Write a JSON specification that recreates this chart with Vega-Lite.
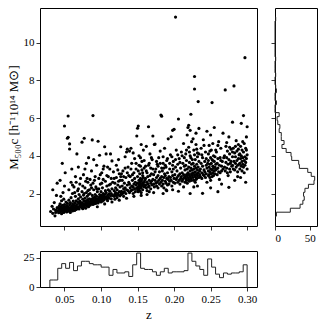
{
"$schema": "https://vega.github.io/schema/vega-lite/v6.json",
"padding": {"left": 6, "top": 7, "right": 0, "bottom": 0},
"spacing": 6,
"vconcat": [
 {"hconcat": [
  {"width": 217, "height": 218,
   "data": {"name": "pts"},
   "mark": {"type": "circle", "size": 10, "color": "black", "opacity": 1},
   "encoding": {
    "x": {"field": "z", "type": "quantitative", "scale": {"domain": [0.0165, 0.3135], "nice": false, "zero": false}, "axis": {"values": [0.05, 0.1, 0.15, 0.2, 0.25, 0.3], "labels": false, "title": null}},
    "y": {"field": "m", "type": "quantitative", "scale": {"domain": [0.28, 11.83], "nice": false, "zero": false}, "axis": {"values": [2, 4, 6, 8, 10], "title": "M₅₀₀c [h⁻¹10¹⁴ M⊙]", "titlePadding": 3}}
   }},
  {"width": 42, "height": 218,
   "layer": [
    {"data": {"name": "hm"},
     "mark": {"type": "line", "interpolate": "step-before", "color": "#222", "strokeWidth": 1},
     "encoding": {
      "x": {"field": "n", "type": "quantitative", "scale": {"domain": [0, 60.3], "nice": false}, "axis": {"values": [0, 50], "title": null}},
      "y": {"field": "m", "type": "quantitative", "scale": {"domain": [0.28, 11.83], "nice": false, "zero": false}, "axis": {"values": [2, 4, 6, 8, 10], "labels": false, "title": null}},
      "order": {"field": "i", "type": "quantitative"}
     }},
    {"mark": {"type": "rule", "color": "#9a9a9a", "strokeWidth": 1.5},
     "encoding": {"x": {"datum": 60.3}}}
   ]}
 ], "spacing": 12},
 {"width": 217, "height": 36,
  "data": {"name": "hz"},
  "mark": {"type": "line", "interpolate": "step-after", "color": "#222", "strokeWidth": 1},
  "encoding": {
   "x": {"field": "z", "type": "quantitative", "scale": {"domain": [0.0165, 0.3135], "nice": false, "zero": false}, "axis": {"values": [0.05, 0.1, 0.15, 0.2, 0.25, 0.3], "format": ".2f", "title": "z", "titlePadding": 4}},
   "y": {"field": "n", "type": "quantitative", "scale": {"domain": [0, 30.8], "nice": false}, "axis": {"values": [0, 25], "title": null}},
   "order": {"field": "i", "type": "quantitative"}
  }}
],
"datasets": {
 "hz": [
  {"i":0,"z":0.03,"n":0},
  {"i":1,"z":0.0300,"n":6},{"i":2,"z":0.0354,"n":6},{"i":3,"z":0.0408,"n":16},{"i":4,"z":0.0462,"n":20},{"i":5,"z":0.0516,"n":16},
  {"i":6,"z":0.0570,"n":21},{"i":7,"z":0.0624,"n":14},{"i":8,"z":0.0678,"n":18},{"i":9,"z":0.0732,"n":22},{"i":10,"z":0.0786,"n":22},
  {"i":11,"z":0.0840,"n":20},{"i":12,"z":0.0894,"n":19},{"i":13,"z":0.0948,"n":19},{"i":14,"z":0.1002,"n":17},{"i":15,"z":0.1056,"n":17},
  {"i":16,"z":0.1110,"n":10},{"i":17,"z":0.1164,"n":15},{"i":18,"z":0.1218,"n":12},{"i":19,"z":0.1272,"n":12},{"i":20,"z":0.1326,"n":13},
  {"i":21,"z":0.1380,"n":9},{"i":22,"z":0.1434,"n":19},{"i":23,"z":0.1488,"n":29},{"i":24,"z":0.1542,"n":16},{"i":25,"z":0.1596,"n":15},
  {"i":26,"z":0.1650,"n":15},{"i":27,"z":0.1704,"n":13},{"i":28,"z":0.1758,"n":10},{"i":29,"z":0.1812,"n":13},{"i":30,"z":0.1866,"n":16},
  {"i":31,"z":0.1920,"n":12},{"i":32,"z":0.1974,"n":13},{"i":33,"z":0.2028,"n":13},{"i":34,"z":0.2082,"n":13},{"i":35,"z":0.2136,"n":14},
  {"i":36,"z":0.2190,"n":29},{"i":37,"z":0.2244,"n":22},{"i":38,"z":0.2298,"n":18},{"i":39,"z":0.2352,"n":15},{"i":40,"z":0.2406,"n":10},
  {"i":41,"z":0.2460,"n":24},{"i":42,"z":0.2514,"n":17},{"i":43,"z":0.2568,"n":11},{"i":44,"z":0.2622,"n":8},{"i":45,"z":0.2676,"n":12},
  {"i":46,"z":0.2730,"n":11},{"i":47,"z":0.2784,"n":12},{"i":48,"z":0.2838,"n":12},{"i":49,"z":0.2892,"n":13},{"i":50,"z":0.2946,"n":19},
  {"i":51,"z":0.30,"n":19},{"i":52,"z":0.30,"n":0}
 ],
 "hm": [
  {"i":0,"m":0.80,"n":0},
  {"i":1,"m":0.800,"n":2},{"i":2,"m":1.011,"n":22},{"i":3,"m":1.222,"n":36},{"i":4,"m":1.433,"n":40},{"i":5,"m":1.644,"n":42},
  {"i":6,"m":1.855,"n":41},{"i":7,"m":2.066,"n":43},{"i":8,"m":2.277,"n":48},{"i":9,"m":2.488,"n":56},{"i":10,"m":2.699,"n":57},
  {"i":11,"m":2.910,"n":52},{"i":12,"m":3.121,"n":47},{"i":13,"m":3.332,"n":35},{"i":14,"m":3.543,"n":34},{"i":15,"m":3.754,"n":24},
  {"i":16,"m":3.965,"n":23},{"i":17,"m":4.176,"n":16},{"i":18,"m":4.387,"n":10},{"i":19,"m":4.598,"n":13},{"i":20,"m":4.809,"n":9},
  {"i":21,"m":5.020,"n":9},{"i":22,"m":5.231,"n":6},{"i":23,"m":5.442,"n":7},{"i":24,"m":5.653,"n":4},{"i":25,"m":5.864,"n":3},
  {"i":26,"m":6.075,"n":6},{"i":27,"m":6.286,"n":0},{"i":28,"m":6.497,"n":0},{"i":29,"m":6.708,"n":2},{"i":30,"m":6.919,"n":0},
  {"i":31,"m":7.130,"n":0},{"i":32,"m":7.341,"n":2},{"i":33,"m":7.552,"n":1},{"i":34,"m":7.763,"n":0},{"i":35,"m":7.974,"n":0},
  {"i":36,"m":8.185,"n":1},{"i":37,"m":8.396,"n":0},{"i":38,"m":8.607,"n":0},{"i":39,"m":8.818,"n":0},{"i":40,"m":9.029,"n":1},
  {"i":41,"m":9.240,"n":0},{"i":42,"m":9.451,"n":0},{"i":43,"m":9.662,"n":0},{"i":44,"m":9.873,"n":0},{"i":45,"m":10.084,"n":0},
  {"i":46,"m":10.295,"n":0},{"i":47,"m":10.506,"n":0},{"i":48,"m":10.717,"n":0},{"i":49,"m":10.928,"n":0},{"i":50,"m":11.139,"n":1},
  {"i":51,"m":11.35,"n":0}
 ],
 "pts": [
  {"z":0.031,"m":1.05},{"z":0.033,"m":1.32},{"z":0.034,"m":0.95},{"z":0.035,"m":1.18},{"z":0.036,"m":1.52},{"z":0.037,"m":0.82},{"z":0.038,"m":1.12},{"z":0.039,"m":1.9},{"z":0.040,"m":1.25},{"z":0.040,"m":2.55},{"z":0.034,"m":2.2},{"z":0.038,"m":1.0},
  {"z":0.041,"m":1.08},{"z":0.042,"m":1.21},{"z":0.042,"m":0.98},{"z":0.043,"m":1.35},{"z":0.043,"m":1.15},{"z":0.044,"m":1.02},{"z":0.044,"m":1.46},{"z":0.045,"m":1.12},{"z":0.045,"m":1.28},{"z":0.046,"m":0.93},{"z":0.046,"m":1.62},{"z":0.046,"m":1.19},{"z":0.047,"m":1.05},{"z":0.047,"m":1.38},{"z":0.048,"m":1.1},{"z":0.048,"m":1.24},{"z":0.048,"m":2.05},{"z":0.049,"m":1.0},{"z":0.049,"m":1.31},{"z":0.049,"m":1.7},{"z":0.050,"m":1.16},{"z":0.050,"m":1.42},{"z":0.050,"m":2.4},{"z":0.051,"m":1.08},{"z":0.051,"m":1.27},{"z":0.051,"m":3.1},{"z":0.052,"m":1.13},{"z":0.052,"m":1.55},{"z":0.044,"m":2.7},{"z":0.047,"m":3.6},{"z":0.050,"m":5.58},{"z":0.045,"m":1.85},
  {"z":0.053,"m":1.02},{"z":0.053,"m":1.22},{"z":0.053,"m":1.36},{"z":0.054,"m":1.12},{"z":0.054,"m":1.48},{"z":0.054,"m":4.93},{"z":0.055,"m":1.06},{"z":0.055,"m":1.3},{"z":0.055,"m":6.11},{"z":0.055,"m":4.98},{"z":0.056,"m":1.18},{"z":0.056,"m":1.65},{"z":0.056,"m":2.2},{"z":0.057,"m":1.1},{"z":0.057,"m":1.4},{"z":0.057,"m":4.63},{"z":0.057,"m":4.36},{"z":0.058,"m":1.25},{"z":0.058,"m":1.52},{"z":0.058,"m":1.0},{"z":0.059,"m":1.15},{"z":0.059,"m":1.78},{"z":0.059,"m":2.6},{"z":0.060,"m":1.33},{"z":0.060,"m":1.2},{"z":0.060,"m":3.3},{"z":0.061,"m":1.45},{"z":0.061,"m":1.08},{"z":0.061,"m":2.0},{"z":0.062,"m":1.28},{"z":0.062,"m":1.6},{"z":0.062,"m":1.14},{"z":0.063,"m":1.38},{"z":0.063,"m":2.35},
  {"z":0.064,"m":1.22},{"z":0.064,"m":1.5},{"z":0.064,"m":1.1},{"z":0.065,"m":1.35},{"z":0.065,"m":1.85},{"z":0.065,"m":2.9},{"z":0.066,"m":1.28},{"z":0.066,"m":1.16},{"z":0.066,"m":1.62},{"z":0.067,"m":1.42},{"z":0.067,"m":4.1},{"z":0.067,"m":1.2},{"z":0.068,"m":1.55},{"z":0.068,"m":1.3},{"z":0.068,"m":2.15},{"z":0.069,"m":1.25},{"z":0.069,"m":1.72},{"z":0.069,"m":3.4},{"z":0.070,"m":1.48},{"z":0.070,"m":1.18},{"z":0.070,"m":1.95},{"z":0.071,"m":1.36},{"z":0.071,"m":1.6},{"z":0.071,"m":2.5},{"z":0.072,"m":1.3},{"z":0.072,"m":1.5},{"z":0.072,"m":1.82},{"z":0.073,"m":1.4},
  {"z":0.074,"m":1.25},{"z":0.074,"m":1.52},{"z":0.074,"m":4.72},{"z":0.074,"m":2.1},{"z":0.075,"m":1.35},{"z":0.075,"m":1.7},{"z":0.075,"m":1.2},{"z":0.076,"m":1.45},{"z":0.076,"m":1.92},{"z":0.076,"m":3.0},{"z":0.077,"m":4.93},{"z":0.077,"m":1.3},{"z":0.077,"m":1.6},{"z":0.078,"m":1.42},{"z":0.078,"m":1.75},{"z":0.078,"m":2.3},{"z":0.079,"m":1.38},{"z":0.079,"m":1.55},{"z":0.079,"m":1.22},{"z":0.080,"m":1.62},{"z":0.080,"m":1.48},{"z":0.080,"m":2.05},{"z":0.080,"m":3.6},{"z":0.081,"m":1.33},{"z":0.081,"m":1.85},{"z":0.081,"m":1.5},{"z":0.082,"m":1.68},{"z":0.082,"m":1.4},{"z":0.082,"m":2.6},{"z":0.083,"m":1.58},{"z":0.083,"m":1.3},{"z":0.083,"m":1.95},{"z":0.084,"m":1.72},{"z":0.084,"m":1.45},{"z":0.084,"m":2.2},{"z":0.078,"m":3.3},{"z":0.081,"m":2.8},{"z":0.083,"m":3.9},
  {"z":0.085,"m":1.55},{"z":0.085,"m":1.38},{"z":0.085,"m":2.0},{"z":0.086,"m":1.62},{"z":0.086,"m":1.45},{"z":0.086,"m":2.45},{"z":0.087,"m":1.7},{"z":0.087,"m":1.5},{"z":0.087,"m":3.2},{"z":0.088,"m":4.84},{"z":0.088,"m":1.58},{"z":0.088,"m":1.9},{"z":0.089,"m":1.42},{"z":0.089,"m":1.75},{"z":0.089,"m":6.13},{"z":0.090,"m":1.65},{"z":0.090,"m":2.2},{"z":0.090,"m":1.52},{"z":0.091,"m":1.8},{"z":0.091,"m":1.46},{"z":0.091,"m":2.7},{"z":0.092,"m":1.6},{"z":0.092,"m":1.95},{"z":0.092,"m":1.55},{"z":0.093,"m":1.72},{"z":0.093,"m":2.35},{"z":0.093,"m":1.48},{"z":0.094,"m":1.85},{"z":0.094,"m":1.62},{"z":0.094,"m":3.5},{"z":0.095,"m":1.7},{"z":0.095,"m":2.1},{"z":0.090,"m":3.8},
  {"z":0.096,"m":1.65},{"z":0.096,"m":1.5},{"z":0.096,"m":4.77},{"z":0.097,"m":1.78},{"z":0.097,"m":2.25},{"z":0.097,"m":1.58},{"z":0.098,"m":4.03},{"z":0.098,"m":1.7},{"z":0.098,"m":1.95},{"z":0.099,"m":1.62},{"z":0.099,"m":2.5},{"z":0.099,"m":1.85},{"z":0.100,"m":1.75},{"z":0.100,"m":1.55},{"z":0.100,"m":2.1},{"z":0.101,"m":1.9},{"z":0.101,"m":1.68},{"z":0.101,"m":3.1},{"z":0.102,"m":1.8},{"z":0.102,"m":2.3},{"z":0.102,"m":1.6},{"z":0.103,"m":1.72},{"z":0.103,"m":2.0},{"z":0.103,"m":2.75},{"z":0.104,"m":1.85},{"z":0.104,"m":1.66},{"z":0.104,"m":3.45},{"z":0.105,"m":4.48},{"z":0.105,"m":1.95},{"z":0.105,"m":1.75},{"z":0.106,"m":2.15},
  {"z":0.107,"m":4.1},{"z":0.107,"m":1.82},{"z":0.107,"m":2.05},{"z":0.108,"m":1.7},{"z":0.108,"m":2.4},{"z":0.109,"m":1.92},{"z":0.109,"m":1.62},{"z":0.110,"m":2.2},{"z":0.110,"m":1.8},{"z":0.110,"m":2.9},{"z":0.111,"m":1.98},{"z":0.111,"m":1.75},{"z":0.112,"m":2.12},{"z":0.112,"m":3.3},{"z":0.113,"m":4.1},{"z":0.113,"m":1.88},{"z":0.113,"m":2.5},{"z":0.114,"m":1.72},{"z":0.114,"m":2.0},{"z":0.115,"m":3.73},{"z":0.115,"m":2.25},{"z":0.116,"m":1.9},{"z":0.116,"m":2.6},
  {"z":0.118,"m":1.85},{"z":0.118,"m":2.15},{"z":0.118,"m":2.8},{"z":0.119,"m":1.98},{"z":0.119,"m":1.7},{"z":0.120,"m":2.3},{"z":0.120,"m":2.05},{"z":0.121,"m":1.9},{"z":0.121,"m":3.5},{"z":0.122,"m":2.2},{"z":0.122,"m":1.78},{"z":0.123,"m":2.45},{"z":0.123,"m":2.0},{"z":0.124,"m":1.92},{"z":0.124,"m":2.65},{"z":0.125,"m":2.1},{"z":0.125,"m":3.05},{"z":0.126,"m":1.88},{"z":0.126,"m":2.35},{"z":0.127,"m":4.48},{"z":0.127,"m":2.05},{"z":0.127,"m":2.9},{"z":0.124,"m":3.8},
  {"z":0.128,"m":2.12},{"z":0.128,"m":1.95},{"z":0.129,"m":2.4},{"z":0.129,"m":2.7},{"z":0.130,"m":2.02},{"z":0.130,"m":3.2},{"z":0.131,"m":2.25},{"z":0.131,"m":1.85},{"z":0.132,"m":2.55},{"z":0.132,"m":2.1},{"z":0.133,"m":3.95},{"z":0.133,"m":2.3},{"z":0.134,"m":2.0},{"z":0.134,"m":2.85},{"z":0.135,"m":4.2},{"z":0.135,"m":2.2},{"z":0.136,"m":2.45},{"z":0.136,"m":4.35},{"z":0.137,"m":2.15},{"z":0.137,"m":3.4},{"z":0.138,"m":2.6},
  {"z":0.139,"m":4.25},{"z":0.139,"m":2.05},{"z":0.139,"m":2.5},{"z":0.140,"m":2.3},{"z":0.140,"m":2.9},{"z":0.141,"m":2.15},{"z":0.141,"m":4.4},{"z":0.142,"m":2.4},{"z":0.142,"m":3.6},{"z":0.143,"m":2.2},{"z":0.143,"m":2.7},{"z":0.144,"m":2.35},{"z":0.144,"m":2.0},{"z":0.145,"m":3.1},{"z":0.145,"m":2.5},{"z":0.146,"m":2.25},{"z":0.146,"m":3.85},{"z":0.147,"m":2.6},{"z":0.147,"m":2.1},{"z":0.148,"m":2.45},{"z":0.148,"m":3.3},{"z":0.149,"m":2.3},{"z":0.149,"m":5.05},{"z":0.144,"m":4.15},
  {"z":0.150,"m":2.2},{"z":0.150,"m":2.55},{"z":0.150,"m":5.46},{"z":0.150,"m":2.9},{"z":0.151,"m":5.58},{"z":0.151,"m":2.35},{"z":0.151,"m":2.1},{"z":0.151,"m":3.2},{"z":0.152,"m":2.45},{"z":0.152,"m":2.7},{"z":0.152,"m":2.25},{"z":0.152,"m":4.0},{"z":0.153,"m":2.6},{"z":0.153,"m":2.38},{"z":0.153,"m":3.05},{"z":0.153,"m":2.15},{"z":0.154,"m":2.5},{"z":0.154,"m":2.8},{"z":0.154,"m":3.45},{"z":0.155,"m":2.3},{"z":0.155,"m":2.65},{"z":0.155,"m":2.05},{"z":0.156,"m":2.75},{"z":0.156,"m":2.42},{"z":0.156,"m":3.7},{"z":0.157,"m":2.55},{"z":0.157,"m":2.2},{"z":0.157,"m":3.1},{"z":0.158,"m":2.48},{"z":0.158,"m":2.85},{"z":0.158,"m":4.3},{"z":0.159,"m":2.6},{"z":0.159,"m":2.35},{"z":0.159,"m":3.35},{"z":0.160,"m":2.7},{"z":0.160,"m":2.4},{"z":0.155,"m":4.6},{"z":0.157,"m":2.95},
  {"z":0.161,"m":2.45},{"z":0.161,"m":2.8},{"z":0.162,"m":2.3},{"z":0.162,"m":3.2},{"z":0.163,"m":2.6},{"z":0.163,"m":2.15},{"z":0.164,"m":2.9},{"z":0.164,"m":2.5},{"z":0.165,"m":5.54},{"z":0.165,"m":2.35},{"z":0.165,"m":3.5},{"z":0.166,"m":2.7},{"z":0.166,"m":2.4},{"z":0.167,"m":2.95},{"z":0.167,"m":4.1},{"z":0.168,"m":2.55},{"z":0.168,"m":2.25},{"z":0.169,"m":3.05},{"z":0.169,"m":2.65},{"z":0.170,"m":2.45},{"z":0.170,"m":3.8},{"z":0.171,"m":5.05},{"z":0.171,"m":2.75},{"z":0.162,"m":4.5},{"z":0.168,"m":3.35},{"z":0.166,"m":2.1},
  {"z":0.172,"m":2.5},{"z":0.172,"m":3.0},{"z":0.173,"m":4.6},{"z":0.173,"m":2.35},{"z":0.174,"m":4.62},{"z":0.174,"m":2.7},{"z":0.175,"m":2.55},{"z":0.175,"m":3.3},{"z":0.176,"m":2.85},{"z":0.176,"m":2.4},{"z":0.177,"m":3.55},{"z":0.177,"m":2.6},{"z":0.178,"m":2.3},{"z":0.178,"m":2.95},{"z":0.179,"m":3.9},{"z":0.179,"m":2.7},{"z":0.180,"m":2.5},{"z":0.180,"m":3.15},{"z":0.181,"m":2.8},{"z":0.181,"m":4.25},
  {"z":0.182,"m":6.16},{"z":0.182,"m":2.6},{"z":0.183,"m":6.1},{"z":0.183,"m":2.9},{"z":0.183,"m":2.4},{"z":0.184,"m":3.2},{"z":0.184,"m":2.7},{"z":0.185,"m":2.5},{"z":0.185,"m":3.6},{"z":0.186,"m":2.85},{"z":0.186,"m":2.3},{"z":0.187,"m":3.05},{"z":0.187,"m":4.4},{"z":0.188,"m":2.65},{"z":0.188,"m":2.95},{"z":0.189,"m":3.4},{"z":0.189,"m":2.55},{"z":0.190,"m":2.8},{"z":0.190,"m":3.75},{"z":0.191,"m":2.45},{"z":0.191,"m":3.1},{"z":0.192,"m":2.75},{"z":0.192,"m":4.9},{"z":0.186,"m":3.35},{"z":0.189,"m":2.2},
  {"z":0.193,"m":2.9},{"z":0.193,"m":2.5},{"z":0.194,"m":3.3},{"z":0.194,"m":2.65},{"z":0.195,"m":2.85},{"z":0.195,"m":4.05},{"z":0.196,"m":5.01},{"z":0.196,"m":2.7},{"z":0.197,"m":3.15},{"z":0.197,"m":2.4},{"z":0.198,"m":3.5},{"z":0.198,"m":2.95},{"z":0.199,"m":2.6},{"z":0.199,"m":3.7},{"z":0.200,"m":5.4},{"z":0.200,"m":2.8},{"z":0.201,"m":3.0},{"z":0.201,"m":2.55},{"z":0.202,"m":11.35},{"z":0.202,"m":3.4},{"z":0.203,"m":2.75},{"z":0.203,"m":4.3},
  {"z":0.204,"m":2.85},{"z":0.204,"m":3.2},{"z":0.205,"m":2.6},{"z":0.205,"m":3.55},{"z":0.206,"m":5.95},{"z":0.206,"m":2.95},{"z":0.207,"m":2.7},{"z":0.207,"m":3.85},{"z":0.208,"m":3.05},{"z":0.208,"m":2.5},{"z":0.209,"m":3.35},{"z":0.209,"m":2.8},{"z":0.210,"m":4.2},{"z":0.210,"m":2.9},{"z":0.211,"m":3.1},{"z":0.211,"m":2.65},{"z":0.212,"m":3.6},{"z":0.212,"m":2.75},{"z":0.213,"m":4.65},{"z":0.213,"m":3.0},{"z":0.214,"m":2.85},{"z":0.214,"m":3.45},{"z":0.198,"m":5.35},
  {"z":0.215,"m":2.9},{"z":0.215,"m":3.25},{"z":0.215,"m":2.6},{"z":0.216,"m":3.5},{"z":0.216,"m":2.8},{"z":0.216,"m":4.1},{"z":0.217,"m":3.0},{"z":0.217,"m":2.7},{"z":0.217,"m":3.75},{"z":0.218,"m":2.95},{"z":0.218,"m":3.3},{"z":0.218,"m":2.55},{"z":0.219,"m":5.5},{"z":0.219,"m":3.1},{"z":0.219,"m":2.85},{"z":0.220,"m":5.62},{"z":0.220,"m":3.4},{"z":0.220,"m":2.75},{"z":0.220,"m":4.45},{"z":0.221,"m":3.0},{"z":0.221,"m":3.65},{"z":0.221,"m":2.65},{"z":0.222,"m":3.2},{"z":0.222,"m":2.9},{"z":0.222,"m":4.0},{"z":0.223,"m":6.2},{"z":0.223,"m":3.35},{"z":0.223,"m":2.8},{"z":0.223,"m":3.9},{"z":0.224,"m":3.05},{"z":0.224,"m":2.7},{"z":0.224,"m":4.75},{"z":0.225,"m":3.25},{"z":0.225,"m":2.95},{"z":0.218,"m":5.1},{"z":0.222,"m":5.35},{"z":0.224,"m":3.55},
  {"z":0.226,"m":3.1},{"z":0.226,"m":2.85},{"z":0.226,"m":3.6},{"z":0.227,"m":3.3},{"z":0.227,"m":2.7},{"z":0.227,"m":4.3},{"z":0.228,"m":8.2},{"z":0.228,"m":7.54},{"z":0.228,"m":3.0},{"z":0.228,"m":3.45},{"z":0.229,"m":2.9},{"z":0.229,"m":3.8},{"z":0.229,"m":3.15},{"z":0.230,"m":2.75},{"z":0.230,"m":3.35},{"z":0.230,"m":4.6},{"z":0.231,"m":3.05},{"z":0.231,"m":3.55},{"z":0.231,"m":2.8},{"z":0.232,"m":3.25},{"z":0.232,"m":3.95},{"z":0.232,"m":2.95},{"z":0.233,"m":6.87},{"z":0.233,"m":3.4},{"z":0.233,"m":3.1},{"z":0.234,"m":2.85},{"z":0.234,"m":3.7},{"z":0.234,"m":5.45},{"z":0.235,"m":3.2},{"z":0.235,"m":3.0},{"z":0.230,"m":5.2},{"z":0.232,"m":4.15},{"z":0.226,"m":4.9},{"z":0.229,"m":2.6},
  {"z":0.236,"m":3.3},{"z":0.236,"m":2.9},{"z":0.237,"m":3.6},{"z":0.237,"m":4.4},{"z":0.238,"m":3.1},{"z":0.238,"m":2.8},{"z":0.239,"m":3.45},{"z":0.239,"m":3.9},{"z":0.240,"m":3.0},{"z":0.240,"m":4.85},{"z":0.241,"m":3.25},{"z":0.241,"m":2.95},{"z":0.242,"m":3.7},{"z":0.242,"m":3.15},{"z":0.243,"m":4.2},{"z":0.243,"m":2.85},{"z":0.244,"m":3.5},{"z":0.244,"m":3.05},{"z":0.245,"m":5.3},{"z":0.245,"m":3.35},{"z":0.246,"m":3.6},
  {"z":0.247,"m":3.2},{"z":0.247,"m":2.95},{"z":0.247,"m":3.75},{"z":0.247,"m":4.1},{"z":0.248,"m":3.4},{"z":0.248,"m":3.0},{"z":0.248,"m":4.55},{"z":0.249,"m":3.55},{"z":0.249,"m":3.15},{"z":0.249,"m":2.85},{"z":0.250,"m":3.3},{"z":0.250,"m":3.9},{"z":0.250,"m":5.1},{"z":0.251,"m":3.05},{"z":0.251,"m":3.6},{"z":0.251,"m":4.3},{"z":0.252,"m":6.82},{"z":0.252,"m":3.25},{"z":0.252,"m":2.9},{"z":0.252,"m":3.8},{"z":0.253,"m":3.45},{"z":0.253,"m":3.1},{"z":0.253,"m":4.65},{"z":0.254,"m":3.35},{"z":0.254,"m":2.95},{"z":0.254,"m":4.0},{"z":0.255,"m":3.7},{"z":0.255,"m":3.2},{"z":0.255,"m":5.5},{"z":0.256,"m":3.4},{"z":0.256,"m":3.05},{"z":0.256,"m":3.95},{"z":0.257,"m":3.55},{"z":0.257,"m":3.25},{"z":0.250,"m":2.7},
  {"z":0.258,"m":3.3},{"z":0.258,"m":4.2},{"z":0.259,"m":3.6},{"z":0.259,"m":3.0},{"z":0.260,"m":3.85},{"z":0.260,"m":3.35},{"z":0.261,"m":4.75},{"z":0.261,"m":3.15},{"z":0.262,"m":3.5},{"z":0.263,"m":3.9},{"z":0.263,"m":3.1},{"z":0.264,"m":4.4},{"z":0.265,"m":3.45},{"z":0.265,"m":3.2},{"z":0.266,"m":3.7},{"z":0.267,"m":5.2},{"z":0.267,"m":3.3},
  {"z":0.269,"m":3.4},{"z":0.269,"m":4.0},{"z":0.270,"m":7.49},{"z":0.270,"m":3.2},{"z":0.271,"m":3.65},{"z":0.271,"m":4.5},{"z":0.272,"m":3.35},{"z":0.272,"m":3.9},{"z":0.273,"m":3.1},{"z":0.273,"m":4.25},{"z":0.274,"m":3.55},{"z":0.275,"m":3.8},{"z":0.275,"m":5.0},{"z":0.276,"m":3.3},{"z":0.276,"m":4.1},{"z":0.277,"m":3.6},{"z":0.277,"m":3.15},{"z":0.278,"m":4.35},{"z":0.278,"m":3.7},{"z":0.279,"m":3.45},
  {"z":0.280,"m":5.78},{"z":0.280,"m":3.5},{"z":0.280,"m":3.95},{"z":0.281,"m":3.3},{"z":0.281,"m":4.4},{"z":0.282,"m":7.7},{"z":0.282,"m":3.7},{"z":0.283,"m":3.25},{"z":0.283,"m":4.15},{"z":0.284,"m":3.6},{"z":0.284,"m":3.95},{"z":0.285,"m":4.8},{"z":0.285,"m":3.4},{"z":0.286,"m":3.75},{"z":0.286,"m":4.25},{"z":0.287,"m":3.5},{"z":0.287,"m":3.15},{"z":0.288,"m":4.6},{"z":0.288,"m":3.85},{"z":0.289,"m":3.55},{"z":0.289,"m":4.05},
  {"z":0.290,"m":3.6},{"z":0.290,"m":4.1},{"z":0.290,"m":3.3},{"z":0.291,"m":3.85},{"z":0.291,"m":4.5},{"z":0.292,"m":5.72},{"z":0.292,"m":3.45},{"z":0.292,"m":4.0},{"z":0.293,"m":3.7},{"z":0.293,"m":3.2},{"z":0.293,"m":4.3},{"z":0.294,"m":3.9},{"z":0.294,"m":3.55},{"z":0.295,"m":6.13},{"z":0.295,"m":4.2},{"z":0.295,"m":3.4},{"z":0.296,"m":3.75},{"z":0.296,"m":4.65},{"z":0.296,"m":3.1},{"z":0.297,"m":9.2},{"z":0.297,"m":3.95},{"z":0.297,"m":3.5},{"z":0.298,"m":4.4},{"z":0.298,"m":3.65},{"z":0.299,"m":3.85},{"z":0.299,"m":5.0},{"z":0.300,"m":5.54},{"z":0.300,"m":3.3},{"z":0.300,"m":4.05},
  {"z":0.283,"m":2.7},{"z":0.287,"m":2.9},{"z":0.291,"m":2.85},{"z":0.298,"m":2.6},{"z":0.262,"m":2.75},{"z":0.274,"m":2.95},
  {"z":0.275,"m":2.33},{"z":0.239,"m":2.01},{"z":0.222,"m":2.0},{"z":0.206,"m":2.12},{"z":0.260,"m":2.1},{"z":0.250,"m":2.3},{"z":0.213,"m":2.35},{"z":0.232,"m":2.4},{"z":0.265,"m":2.5},{"z":0.245,"m":2.6},{"z":0.227,"m":2.35},
  {"z":0.145,"m":1.85},{"z":0.155,"m":1.9},{"z":0.163,"m":1.95},{"z":0.172,"m":2.05},{"z":0.185,"m":2.0},{"z":0.190,"m":2.15},{"z":0.198,"m":2.2},{"z":0.135,"m":1.75},{"z":0.125,"m":1.65},{"z":0.115,"m":1.55},{"z":0.105,"m":1.45},{"z":0.095,"m":1.3},
  {"z":0.061,"m":2.45},{"z":0.064,"m":2.05},{"z":0.066,"m":2.6},{"z":0.069,"m":2.25},{"z":0.072,"m":2.8},{"z":0.075,"m":2.4},{"z":0.077,"m":2.0},{"z":0.079,"m":2.65},{"z":0.082,"m":2.15},{"z":0.085,"m":2.75},{"z":0.087,"m":2.3},{"z":0.089,"m":2.55},{"z":0.092,"m":2.9},{"z":0.094,"m":2.25},{"z":0.097,"m":2.8},{"z":0.099,"m":3.0},
  {"z":0.101,"m":2.55},{"z":0.103,"m":3.3},{"z":0.106,"m":2.65},{"z":0.108,"m":2.95},{"z":0.109,"m":3.4},{"z":0.111,"m":2.45},{"z":0.114,"m":2.8},{"z":0.117,"m":3.15},{"z":0.119,"m":2.55},{"z":0.121,"m":2.85},{"z":0.123,"m":3.25},{"z":0.126,"m":2.7},{"z":0.128,"m":3.05},{"z":0.131,"m":2.9},{"z":0.133,"m":3.35},{"z":0.136,"m":3.1},{"z":0.138,"m":2.95},{"z":0.141,"m":3.3},{"z":0.143,"m":3.0},{"z":0.146,"m":2.8},{"z":0.148,"m":3.6},
  {"z":0.152,"m":3.5},{"z":0.154,"m":3.9},{"z":0.156,"m":3.25},{"z":0.159,"m":3.75},{"z":0.161,"m":3.45},{"z":0.163,"m":3.1},{"z":0.166,"m":3.6},{"z":0.169,"m":3.9},{"z":0.171,"m":3.3},{"z":0.174,"m":3.15},{"z":0.176,"m":3.7},{"z":0.178,"m":3.45},{"z":0.181,"m":3.6},{"z":0.183,"m":3.35},{"z":0.185,"m":3.95},{"z":0.188,"m":3.5},{"z":0.191,"m":3.85},{"z":0.194,"m":3.6},{"z":0.197,"m":3.95},{"z":0.199,"m":3.3},
  {"z":0.202,"m":3.8},{"z":0.205,"m":4.05},{"z":0.208,"m":3.65},{"z":0.211,"m":4.0},{"z":0.214,"m":3.9},{"z":0.217,"m":4.3},{"z":0.221,"m":4.2},{"z":0.225,"m":3.8},{"z":0.228,"m":4.05},{"z":0.231,"m":4.35},{"z":0.234,"m":4.1},{"z":0.238,"m":4.05},{"z":0.241,"m":4.55},{"z":0.244,"m":3.85},{"z":0.249,"m":4.25},{"z":0.253,"m":3.75},{"z":0.257,"m":4.3},{"z":0.260,"m":4.55},{"z":0.264,"m":3.75},{"z":0.268,"m":3.9},{"z":0.272,"m":4.7},{"z":0.276,"m":4.45},{"z":0.280,"m":4.2},{"z":0.284,"m":4.5},{"z":0.288,"m":4.35},{"z":0.294,"m":4.75},{"z":0.299,"m":4.3}
 ]
},
"config": {
 "view": {"stroke": "black", "strokeWidth": 1},
 "axis": {"domain": false, "grid": false, "tickColor": "black", "tickSize": 4, "tickWidth": 0.8, "labelFont": "Liberation Serif", "labelFontSize": 11, "labelColor": "black", "labelPadding": 2, "titleFont": "Liberation Serif", "titleFontSize": 13, "titleFontWeight": "normal", "titleColor": "black"}
}
}
